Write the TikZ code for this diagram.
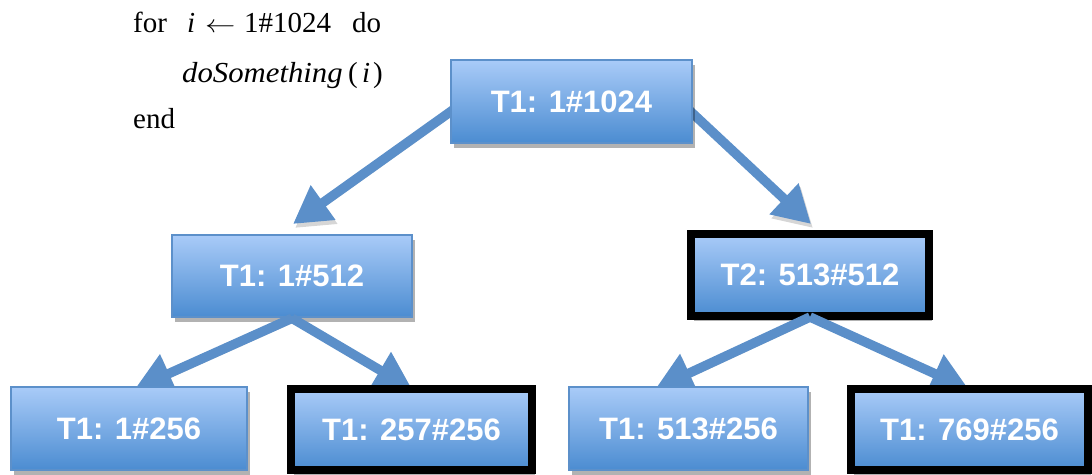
\documentclass[tikz,border=0pt]{standalone}
\usepackage{fontspec}
\usepackage{graphicx}
\setmainfont{Liberation Serif}
\newfontfamily\boxfont{Liberation Sans}
\usetikzlibrary{arrows.meta,shadows}
\pgfdeclarelayer{bg}
\pgfdeclarelayer{arr}
\pgfdeclarelayer{fg}
\pgfsetlayers{bg,main,arr,fg}
\definecolor{arrowblue}{HTML}{5B8FC9}
\definecolor{boxtop}{HTML}{A9CBF8}
\definecolor{boxbot}{HTML}{4B8CD1}
\definecolor{boxedge}{HTML}{5C90CA}
\tikzset{
  boxbase/.style={rectangle, top color=boxtop, bottom color=boxbot, text=white,
    font=\boxfont\bfseries\fontsize{31}{31}\selectfont, inner sep=0pt,
    drop shadow={shadow xshift=3pt, shadow yshift=-5pt, opacity=0.3, fill=black}},
  plainbox/.style={boxbase, draw=boxedge, line width=2.5pt},
  heavybox/.style={boxbase, draw=black, line width=8pt},
  conn/.style={draw=arrowblue, line width=9.5pt, -{Triangle[width=40pt,length=37pt]},
    preaction={draw=black!16, transform canvas={shift={(2pt,-4pt)}}}},
  code/.style={anchor=base west, inner sep=0pt, font=\fontsize{29}{29}\selectfont}
}
\begin{document}
\begin{tikzpicture}[x=1pt, y=-1pt]
\useasboundingbox (0,0) rectangle (1092,474);
% pseudo-code
\node[code] (l1) at (133,32) {\makebox[54pt][l]{for}\makebox[18pt][l]{\textit{i}}\makebox[39pt][l]{\scalebox{1.22}[1]{$\leftarrow$}}\hbox to 86pt{1\hfil\#\hfil1\hfil0\hfil2\hfil4}\hspace{22pt}do};
\node[code] (l2) at (182,82) {\makebox[166pt][l]{\scalebox{1.06}[1]{\textit{doSomething}}}\makebox[14pt][l]{(}\makebox[11pt][l]{\textit{i}})};
\node[code] (l3) at (133,128) {end};
% upper boxes
\node[plainbox, minimum width=241pt, minimum height=83pt] (root) at (571.5,101.5) {T1: 1\#1024};
\node[plainbox, minimum width=240pt, minimum height=82pt] (lm) at (292,276) {T1: 1\#512};
\node[heavybox, minimum width=238pt, minimum height=82pt] (rm) at (810,275) {T2: 513\#512};
% lower boxes
\begin{pgfonlayer}{fg}
\node[plainbox, minimum width=236pt, minimum height=83pt] (b1) at (129,428.5) {T1: 1\#256};
\node[heavybox, minimum width=241pt, minimum height=81pt] (b2) at (411.5,429.5) {T1: 257\#256};
\node[plainbox, minimum width=239pt, minimum height=83pt] (b3) at (688.5,428.5) {T1: 513\#256};
\node[heavybox, minimum width=237pt, minimum height=81pt] (b4) at (969.5,429.5) {T1: 769\#256};
\end{pgfonlayer}
% arrows from root (under the root box)
\begin{pgfonlayer}{bg}
\draw[conn] ([xshift=8pt,yshift=-5pt]root.west) -- ([xshift=1pt,yshift=9.75pt]lm.north);
\draw[conn] ([xshift=-8pt,yshift=-5pt]root.east) -- ([xshift=1pt,yshift=6pt]rm.north);
\end{pgfonlayer}
% arrows from the middle boxes
\begin{pgfonlayer}{arr}
\draw[conn] (lm.south) -- ([xshift=6pt,yshift=-3pt]b1.north);
\draw[conn] (lm.south) -- ([xshift=0.5pt,yshift=-4pt]b2.north);
\draw[conn] ([yshift=3pt]rm.south) -- ([xshift=-33pt,yshift=-3pt]b3.north);
\draw[conn] ([yshift=3pt]rm.south) -- ([xshift=-1pt,yshift=-4pt]b4.north);
\end{pgfonlayer}
\end{tikzpicture}
\end{document}
